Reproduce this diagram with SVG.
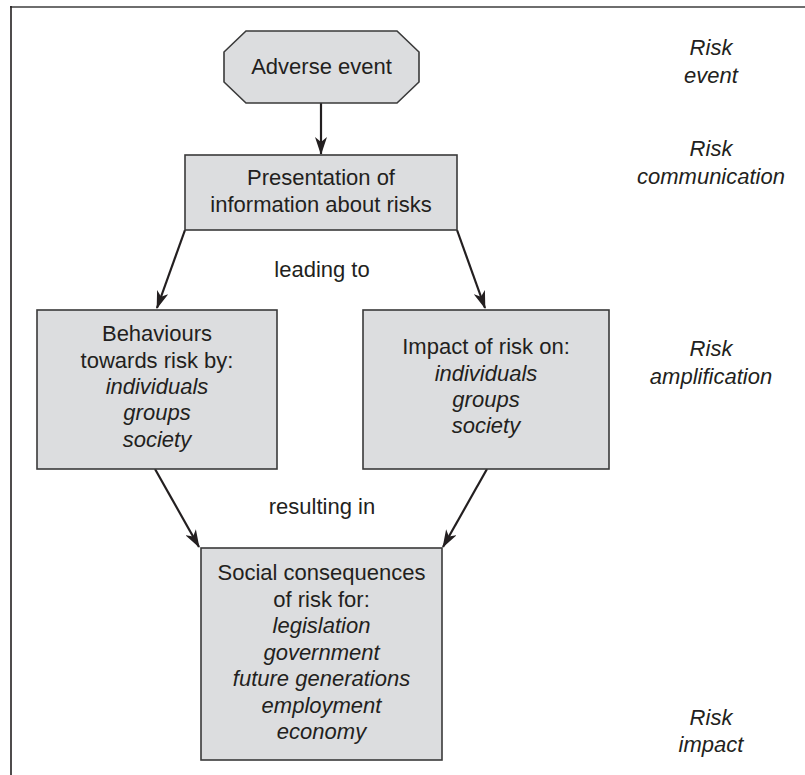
<svg xmlns="http://www.w3.org/2000/svg" width="805" height="775" viewBox="0 0 805 775">
<style>
.box{fill:#dcdddf;stroke:#3a3a3a;stroke-width:1.6}
.t{font-family:"Liberation Sans",Arial,sans-serif;font-size:22px;fill:#231f20;text-anchor:middle}
.i{font-style:italic}
.side{font-family:"Liberation Sans",Arial,sans-serif;font-size:22px;font-style:italic;fill:#231f20;text-anchor:middle}
.c{stroke:#231f20;stroke-width:2.2;fill:none;marker-end:url(#ah)}
</style>
<defs>
<marker id="ah" markerUnits="userSpaceOnUse" markerWidth="18" markerHeight="12" viewBox="0 0 18 12" refX="17" refY="6" orient="auto">
<path d="M0,0 L18,6 L0,12 L5,6 z" fill="#231f20"/>
</marker>
</defs>
<g id="frame">
<line x1="10" y1="7" x2="805" y2="7" stroke="#6e6e6e" stroke-width="2"/>
<line x1="11" y1="6" x2="11" y2="775" stroke="#231f20" stroke-width="1.6"/>
</g>
<g id="connectors">
<line class="c" x1="321" y1="103" x2="321" y2="154"/>
<line class="c" x1="185" y1="230" x2="157" y2="308"/>
<line class="c" x1="457" y1="230" x2="485" y2="308"/>
<line class="c" x1="155" y1="469" x2="199" y2="547"/>
<line class="c" x1="487" y1="469" x2="443" y2="547"/>
</g>
<g id="adverse-event">
<polygon class="box" points="246,31 397,31 419,52 419,82 397,103 246,103 224,82 224,52"/>
<text class="t" x="321.5" y="74">Adverse event</text>
</g>
<g id="presentation">
<rect class="box" x="185" y="155" width="272" height="75"/>
<text class="t" x="321" y="185">Presentation of</text>
<text class="t" x="321" y="212">information about risks</text>
</g>
<g id="label-leading">
<text class="t" x="322" y="277">leading to</text>
</g>
<g id="behaviours">
<rect class="box" x="37" y="310" width="240" height="159"/>
<text class="t" x="157" y="341">Behaviours</text>
<text class="t" x="157" y="368">towards risk by:</text>
<text class="t i" x="157" y="394">individuals</text>
<text class="t i" x="157" y="420">groups</text>
<text class="t i" x="157" y="447">society</text>
</g>
<g id="impact">
<rect class="box" x="363" y="310" width="246" height="159"/>
<text class="t" x="486" y="354">Impact of risk on:</text>
<text class="t i" x="486" y="381">individuals</text>
<text class="t i" x="486" y="407">groups</text>
<text class="t i" x="486" y="433">society</text>
</g>
<g id="label-resulting">
<text class="t" x="322" y="514">resulting in</text>
</g>
<g id="social">
<rect class="box" x="201" y="548" width="241" height="212"/>
<text class="t" x="321.5" y="580">Social consequences</text>
<text class="t" x="321.5" y="607">of risk for:</text>
<text class="t i" x="321.5" y="633">legislation</text>
<text class="t i" x="321.5" y="660">government</text>
<text class="t i" x="321.5" y="686">future generations</text>
<text class="t i" x="321.5" y="713">employment</text>
<text class="t i" x="321.5" y="739">economy</text>
</g>
<g id="side-labels">
<text class="side" x="711" y="55">Risk</text>
<text class="side" x="711" y="83">event</text>
<text class="side" x="711" y="156">Risk</text>
<text class="side" x="711" y="184">communication</text>
<text class="side" x="711" y="356">Risk</text>
<text class="side" x="711" y="384">amplification</text>
<text class="side" x="711" y="725">Risk</text>
<text class="side" x="711" y="752">impact</text>
</g>
</svg>
